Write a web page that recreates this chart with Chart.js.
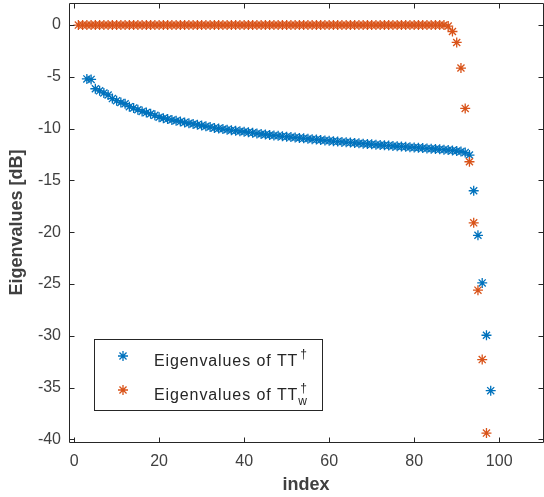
<!DOCTYPE html>
<html>
<head>
<meta charset="utf-8">
<script src="https://cdn.jsdelivr.net/npm/chart.js@4"></script>
<style>
  body { margin: 0; background: #fff; }
</style>
</head>
<body>
<canvas id="eigChart" width="544" height="497"></canvas>
<script>
const xTicks = [0, 20, 40, 60, 80, 100];
const yTicks = [-40, -35, -30, -25, -20, -15, -10, -5, 0];

// eigenvalues of T T^dagger in dB, first one is index 3
const firstIndexTT = 3;
const eigTT = [
    -5.2, -5.25, -6.15, -6.35, -6.55, -6.75, -7.1, -7.3, -7.48, -7.6,
    -7.88, -8.0, -8.18, -8.34, -8.45, -8.56, -8.72, -8.9, -9.0, -9.08,
    -9.16, -9.24, -9.32, -9.4, -9.48, -9.55, -9.62, -9.7, -9.78, -9.85,
    -9.93, -9.98, -10.04, -10.1, -10.15, -10.2, -10.25, -10.3, -10.36, -10.41,
    -10.46, -10.52, -10.57, -10.62, -10.66, -10.7, -10.74, -10.78, -10.82, -10.86,
    -10.9, -10.94, -10.98, -11.02, -11.06, -11.1, -11.14, -11.18, -11.21, -11.25,
    -11.28, -11.31, -11.35, -11.38, -11.41, -11.45, -11.48, -11.51, -11.55, -11.58,
    -11.61, -11.64, -11.67, -11.7, -11.73, -11.76, -11.79, -11.82, -11.85, -11.88,
    -11.91, -11.94, -11.97, -12.0, -12.03, -12.07, -12.11, -12.16, -12.22, -12.3,
    -12.55, -16.0, -20.3, -24.9, -29.95, -35.3,
];

// eigenvalues of T T_w^dagger in dB, first one is index 1
const firstIndexTTw = 1;
const eigTTw = [
    0, 0, 0, 0, 0, 0, 0, 0, 0, 0,
    0, 0, 0, 0, 0, 0, 0, 0, 0, 0,
    0, 0, 0, 0, 0, 0, 0, 0, 0, 0,
    0, 0, 0, 0, 0, 0, 0, 0, 0, 0,
    0, 0, 0, 0, 0, 0, 0, 0, 0, 0,
    0, 0, 0, 0, 0, 0, 0, 0, 0, 0,
    0, 0, 0, 0, 0, 0, 0, 0, 0, 0,
    0, 0, 0, 0, 0, 0, 0, 0, 0, 0,
    0, 0, 0, 0, 0, 0, 0, -0.1, -0.62, -1.68,
    -4.15, -8.05, -13.2, -19.1, -25.6, -32.3, -39.4,
];

const legendText = "Eigenvalues of TT";

const blue = "#0072BD";
const red = "#D95319";
const axisColor = "#262626";
const fontFamily = "'Liberation Sans', Arial, sans-serif";

function toPoints(values, start) {
    return values.map((v, i) => ({ x: start + i, y: v }));
}

// box around the plot area with inward ticks on all four sides
const axesBox = {
    id: "axesBox",
    afterDraw(chart) {
        const { ctx, chartArea: a, scales: { x, y } } = chart;
        const L = Math.floor(a.left) + 0.5;
        const R = Math.floor(a.right) + 0.5;
        const T = Math.floor(a.top) + 0.5;
        const B = Math.floor(a.bottom) + 0.5;
        const len = 5;

        ctx.save();
        ctx.strokeStyle = axisColor;
        ctx.lineWidth = 1;
        ctx.beginPath();
        ctx.rect(L, T, R - L, B - T);

        xTicks.forEach((v) => {
            const px = Math.round(x.getPixelForValue(v)) + 0.5;
            ctx.moveTo(px, B);
            ctx.lineTo(px, B - len);
            ctx.moveTo(px, T);
            ctx.lineTo(px, T + len);
        });
        yTicks.forEach((v) => {
            const py = Math.round(y.getPixelForValue(v)) + 0.5;
            ctx.moveTo(L, py);
            ctx.lineTo(L + len, py);
            ctx.moveTo(R, py);
            ctx.lineTo(R - len, py);
        });
        ctx.stroke();
        ctx.restore();
    },
};

// legend with the dagger superscript and w subscript
const eigLegend = {
    id: "eigLegend",
    afterDraw(chart) {
        const ctx = chart.ctx;
        const rows = [
            { color: blue, markY: 356, baseY: 366, sub: "" },
            { color: red, markY: 390, baseY: 399.5, sub: "w" },
        ];

        ctx.save();
        ctx.fillStyle = "#fff";
        ctx.fillRect(94.5, 339.5, 228, 71);
        ctx.strokeStyle = axisColor;
        ctx.lineWidth = 1;
        ctx.strokeRect(94.5, 339.5, 228, 71);

        rows.forEach((row) => {
            ctx.strokeStyle = row.color;
            ctx.fillStyle = row.color;
            ctx.lineWidth = 1.3;
            Chart.helpers.drawPoint(ctx, { pointStyle: "star", radius: 5, rotation: 0, borderWidth: 1.3 }, 123, row.markY);

            ctx.fillStyle = axisColor;
            ctx.textAlign = "left";
            ctx.textBaseline = "alphabetic";
            ctx.font = "16px " + fontFamily;
            ctx.letterSpacing = "0.9px";
            ctx.fillText(legendText, 154, row.baseY);
            const w = ctx.measureText(legendText).width;

            ctx.letterSpacing = "0px";
            ctx.font = "12px " + fontFamily;
            ctx.fillText("\u2020", 154 + w + 2, row.baseY - 8);
            if (row.sub) {
                ctx.fillText(row.sub, 154 + w, row.baseY + 5);
            }
        });
        ctx.restore();
    },
};

const tickFont = { family: fontFamily, size: 16 };
const titleFont = { family: fontFamily, size: 18, weight: "bold" };

new Chart(document.getElementById("eigChart"), {
    type: "scatter",
    data: {
        datasets: [
            {
                label: legendText + "\u2020",
                data: toPoints(eigTT, firstIndexTT),
                pointStyle: "star",
                pointRadius: 5,
                borderWidth: 1.3,
                borderColor: blue,
                backgroundColor: blue,
                order: 2,
            },
            {
                label: legendText + "\u2020w",
                data: toPoints(eigTTw, firstIndexTTw),
                pointStyle: "star",
                pointRadius: 5,
                borderWidth: 1.3,
                borderColor: red,
                backgroundColor: red,
                order: 1,
            },
        ],
    },
    options: {
        responsive: false,
        animation: false,
        layout: { autoPadding: false, padding: { top: 3, right: 1, left: 0, bottom: 0 } },
        plugins: {
            legend: { display: false },
            tooltip: { enabled: false },
        },
        scales: {
            x: {
                type: "linear",
                min: -1.2,
                max: 110.3,
                afterBuildTicks: (s) => { s.ticks = xTicks.map((v) => ({ value: v })); },
                afterFit: (s) => {
                    s.height = 55;
                    s.paddingLeft = 0;
                    s.paddingRight = 0;
                },
                grid: { display: false, drawTicks: false },
                border: { display: false },
                ticks: { color: "#404040", font: tickFont, padding: 10, maxRotation: 0 },
                title: {
                    display: true,
                    text: "index",
                    color: "#404040",
                    font: titleFont,
                    padding: { top: 0, bottom: 1 },
                },
            },
            y: {
                type: "linear",
                min: -40.26,
                max: 2.13,
                afterBuildTicks: (s) => { s.ticks = yTicks.map((v) => ({ value: v })); },
                afterFit: (s) => {
                    s.width = 69;
                    s.paddingTop = 0;
                    s.paddingBottom = 0;
                },
                grid: { display: false, drawTicks: false },
                border: { display: false },
                ticks: { color: "#404040", font: tickFont, padding: 8 },
                title: {
                    display: true,
                    text: "Eigenvalues [dB]",
                    color: "#404040",
                    font: titleFont,
                    padding: { top: 6, bottom: 0 },
                },
            },
        },
    },
    plugins: [axesBox, eigLegend],
});
</script>
</body>
</html>
